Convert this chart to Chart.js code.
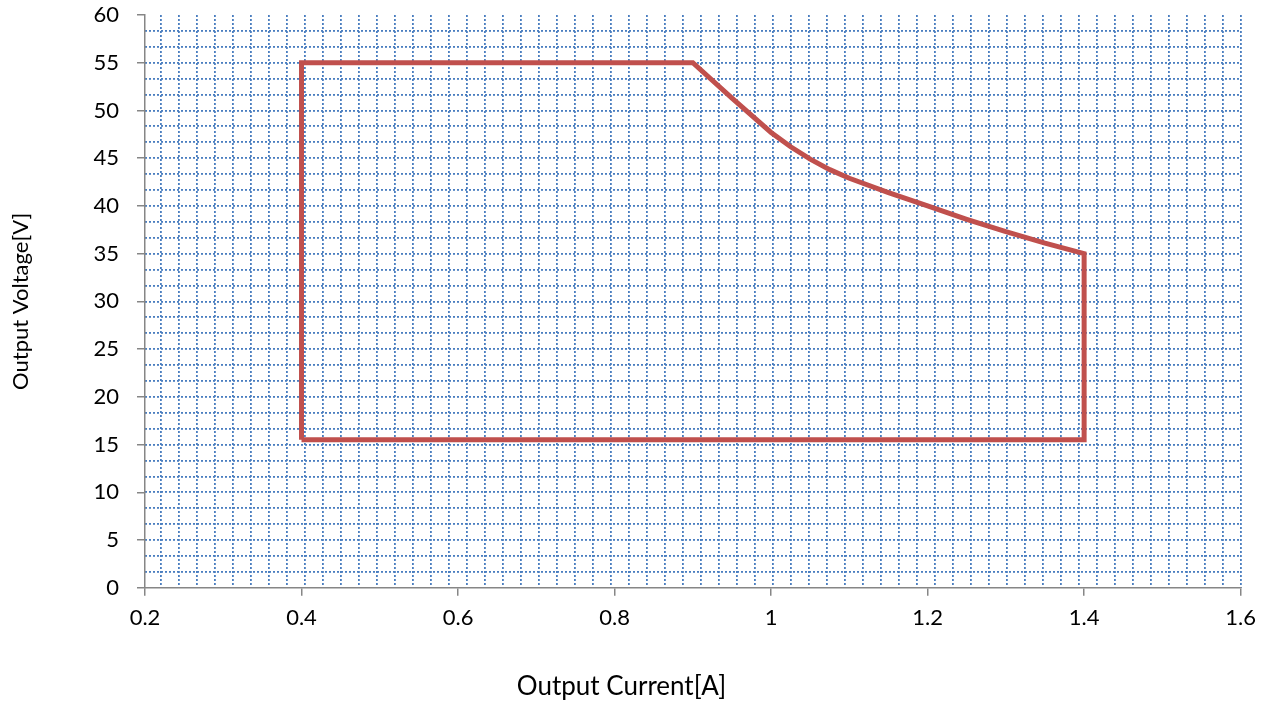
<!DOCTYPE html>
<html>
<head>
<meta charset="utf-8">
<script src="https://cdn.jsdelivr.net/npm/chart.js@4"></script>
<style>
  html, body { margin: 0; padding: 0; background: #fff; }
  #wrap { width: 1265px; height: 702px; }
</style>
</head>
<body>
<div id="wrap"><canvas id="soaChart"></canvas></div>
<script>
// Boundary of the operating area, traced in order (current A, voltage V)
const currentA = [0.4, 0.4, 0.9, 0.95, 1.0, 1.025, 1.05, 1.075, 1.1, 1.15, 1.2, 1.25, 1.3, 1.35, 1.4, 1.4, 0.4];
const voltageV = [15.5, 55, 55, 51.3, 47.7, 46.2, 44.9, 43.8, 42.9, 41.4, 40.0, 38.6, 37.3, 36.1, 35, 15.5, 15.5];

const xTicks = [0.2, 0.4, 0.6, 0.8, 1.0, 1.2, 1.4, 1.6];
const yTicks = [0, 5, 10, 15, 20, 25, 30, 35, 40, 45, 50, 55, 60];

const axisColor = '#868686';
const gridColor = '#4a7ec0';
const fontFam = 'Lato, "Open Sans", sans-serif';

// minor grid (dotted, Excel-like)
const xGrid = [];
for (let k = 0; k <= 60; k++) xGrid.push(+(1.6 - k * 0.023).toFixed(4));
const yGrid = [];
for (let k = 1; k <= 35; k++) yGrid.push(k * 5 / 3);

const points = currentA.map((x, i) => ({ x: x, y: voltageV[i] }));

const ctx = document.getElementById('soaChart').getContext('2d');
new Chart(ctx, {
  type: 'scatter',
  data: {
    datasets: [{
      data: points,
      showLine: true,
      borderColor: '#c0504d',
      borderWidth: 5,
      borderJoinStyle: 'miter',
      pointRadius: 0,
      tension: 0,
      fill: false
    }]
  },
  options: {
    responsive: true,
    maintainAspectRatio: false,
    animation: false,
    layout: { padding: { left: 0, top: 0, right: 22, bottom: 0 } },
    plugins: {
      legend: { display: false },
      tooltip: { enabled: false },
      // x axis title is centred on the whole chart, like the reference
      title: {
        display: true, position: 'bottom', text: 'Output Current[A]', color: '#000',
        font: { family: fontFam, size: 26, weight: 'normal' }, padding: { top: 0, bottom: 0 }
      }
    },
    scales: {
      xg: {
        type: 'linear', position: 'bottom', min: 0.2, max: 1.6,
        afterBuildTicks: s => { s.ticks = xGrid.map(v => ({ value: v })); },
        ticks: { display: false },
        grid: { drawTicks: false, color: gridColor, lineWidth: 1.8 },
        border: { display: false, dash: [2, 2] }
      },
      yg: {
        type: 'linear', position: 'left', min: 0, max: 60,
        afterBuildTicks: s => { s.ticks = yGrid.map(v => ({ value: v })); },
        ticks: { display: false },
        grid: { drawTicks: false, color: gridColor, lineWidth: 1.8 },
        border: { display: false, dash: [2, 2] }
      },
      x: {
        type: 'linear', position: 'bottom', min: 0.2, max: 1.6,
        afterBuildTicks: s => { s.ticks = xTicks.map(v => ({ value: v })); },
        afterFit: s => { s.height = 83; },
        ticks: {
          color: '#000', padding: 9, maxRotation: 0,
          font: { family: fontFam, size: 22 },
          callback: v => String(+v.toFixed(1))
        },
        grid: { drawOnChartArea: false, drawTicks: true, tickLength: 8, color: axisColor, lineWidth: 1.5 },
        border: { color: axisColor, width: 1.5 }
      },
      y: {
        type: 'linear', position: 'left', min: 0, max: 60,
        afterBuildTicks: s => { s.ticks = yTicks.map(v => ({ value: v })); },
        afterFit: s => { s.width = 145; s.paddingTop = 15; },
        ticks: {
          color: '#000', padding: 18,
          font: { family: fontFam, size: 22 }
        },
        grid: { drawOnChartArea: false, drawTicks: true, tickLength: 8, color: axisColor, lineWidth: 1.5 },
        border: { color: axisColor, width: 1.5 },
        title: {
          display: true, text: 'Output Voltage[V]', color: '#000',
          font: { family: fontFam, size: 22 }, padding: { top: 8, bottom: 0 }
        }
      }
    }
  }
});
</script>
</body>
</html>
